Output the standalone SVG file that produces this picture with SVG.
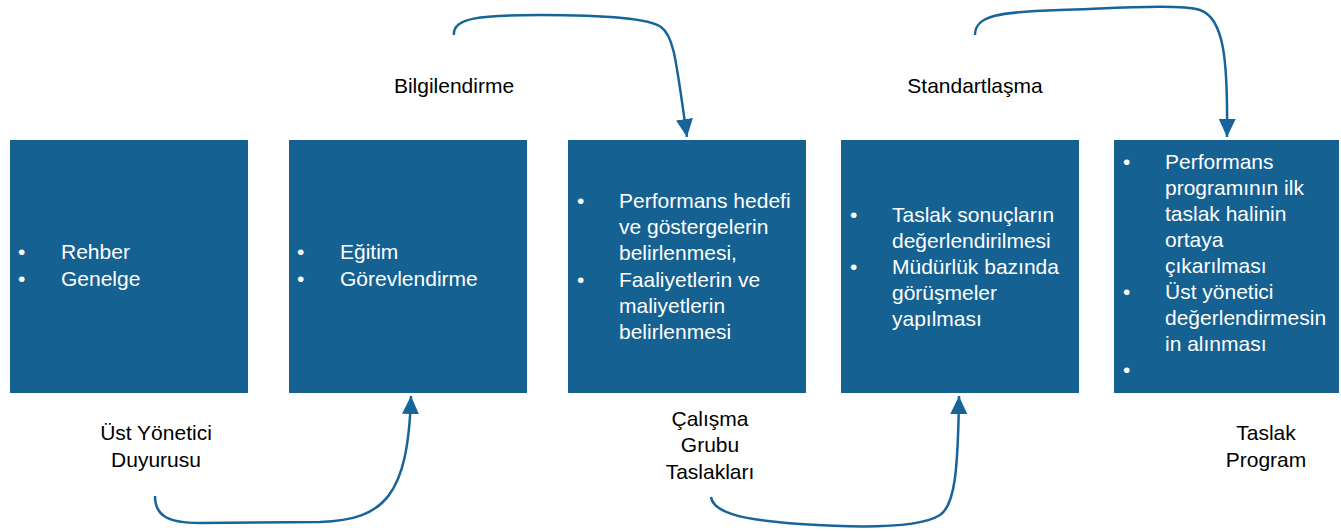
<svg xmlns="http://www.w3.org/2000/svg" width="1341" height="531" viewBox="0 0 1341 531">
<style>
.box{fill:#156192;}
.t{font-family:"Liberation Sans",Arial,sans-serif;font-size:21px;fill:#ffffff;}
.lbl{font-family:"Liberation Sans",Arial,sans-serif;font-size:21px;fill:#000000;text-anchor:middle;}
.conn{fill:none;stroke:#17649a;stroke-width:2.5;}
</style>
<defs>
<marker id="ah" markerUnits="userSpaceOnUse" markerWidth="20" markerHeight="18" refX="18" refY="8.5" orient="auto">
<path d="M0,0 L18,8.5 L0,17 z" fill="#17649a"/>
</marker>
</defs>
<rect width="1341" height="531" fill="#ffffff"/>
<g id="node1">
<rect class="box" x="10" y="140" width="238" height="253"/>
<text class="t" x="18" y="259">•</text><text class="t" x="61" y="259">Rehber</text>
<text class="t" x="18" y="286">•</text><text class="t" x="61" y="286">Genelge</text>
</g>
<g id="node2">
<rect class="box" x="289" y="140" width="238" height="253"/>
<text class="t" x="297" y="259">•</text><text class="t" x="340" y="259">Eğitim</text>
<text class="t" x="297" y="286">•</text><text class="t" x="340" y="286">Görevlendirme</text>
</g>
<g id="node3">
<rect class="box" x="568" y="140" width="238" height="253"/>
<text class="t" x="577" y="208">•</text>
<text class="t" x="619" y="208">Performans hedefi</text>
<text class="t" x="619" y="234">ve göstergelerin</text>
<text class="t" x="619" y="260">belirlenmesi,</text>
<text class="t" x="577" y="287">•</text>
<text class="t" x="619" y="287">Faaliyetlerin ve</text>
<text class="t" x="619" y="313">maliyetlerin</text>
<text class="t" x="619" y="339">belirlenmesi</text>
</g>
<g id="node4">
<rect class="box" x="841" y="140" width="238" height="253"/>
<text class="t" x="850" y="222">•</text>
<text class="t" x="892" y="222">Taslak sonuçların</text>
<text class="t" x="892" y="248">değerlendirilmesi</text>
<text class="t" x="850" y="274">•</text>
<text class="t" x="892" y="274">Müdürlük bazında</text>
<text class="t" x="892" y="300">görüşmeler</text>
<text class="t" x="892" y="326">yapılması</text>
</g>
<g id="node5">
<rect class="box" x="1114" y="140" width="225" height="253"/>
<text class="t" x="1123" y="169">•</text>
<text class="t" x="1165" y="169">Performans</text>
<text class="t" x="1165" y="195">programının ilk</text>
<text class="t" x="1165" y="221">taslak halinin</text>
<text class="t" x="1165" y="247">ortaya</text>
<text class="t" x="1165" y="273">çıkarılması</text>
<text class="t" x="1123" y="299">•</text>
<text class="t" x="1165" y="299">Üst yönetici</text>
<text class="t" x="1165" y="325">değerlendirmesin</text>
<text class="t" x="1165" y="351">in alınması</text>
<text class="t" x="1123" y="377">•</text>
</g>
<g id="labels">
<text class="lbl" x="454" y="93">Bilgilendirme</text>
<text class="lbl" x="975" y="93">Standartlaşma</text>
<text class="lbl" x="156" y="440">Üst Yönetici</text>
<text class="lbl" x="156" y="467">Duyurusu</text>
<text class="lbl" x="710" y="426">Çalışma</text>
<text class="lbl" x="710" y="452">Grubu</text>
<text class="lbl" x="710" y="479">Taslakları</text>
<text class="lbl" x="1266" y="440">Taslak</text>
<text class="lbl" x="1266" y="467">Program</text>
</g>
<g id="connectors">
<path class="conn" marker-end="url(#ah)" d="M454,35 C452,18 480,15 540,15 C600,15 648,18 661,27 C674,36 676,60 687,137"/>
<path class="conn" marker-end="url(#ah)" d="M975,35 C975,15 1000,12 1060,10 C1120,8 1180,4 1200,10 C1224,18 1228,60 1227,137"/>
<path class="conn" marker-end="url(#ah)" d="M155,496 C155,516 168,523 200,523 L320,522 C385,520 408,495 411,396"/>
<path class="conn" marker-end="url(#ah)" d="M711,497 C713,512 740,520 800,524 C860,528 920,528 940,515 C955,505 958,470 959,396"/>
</g>
</svg>
